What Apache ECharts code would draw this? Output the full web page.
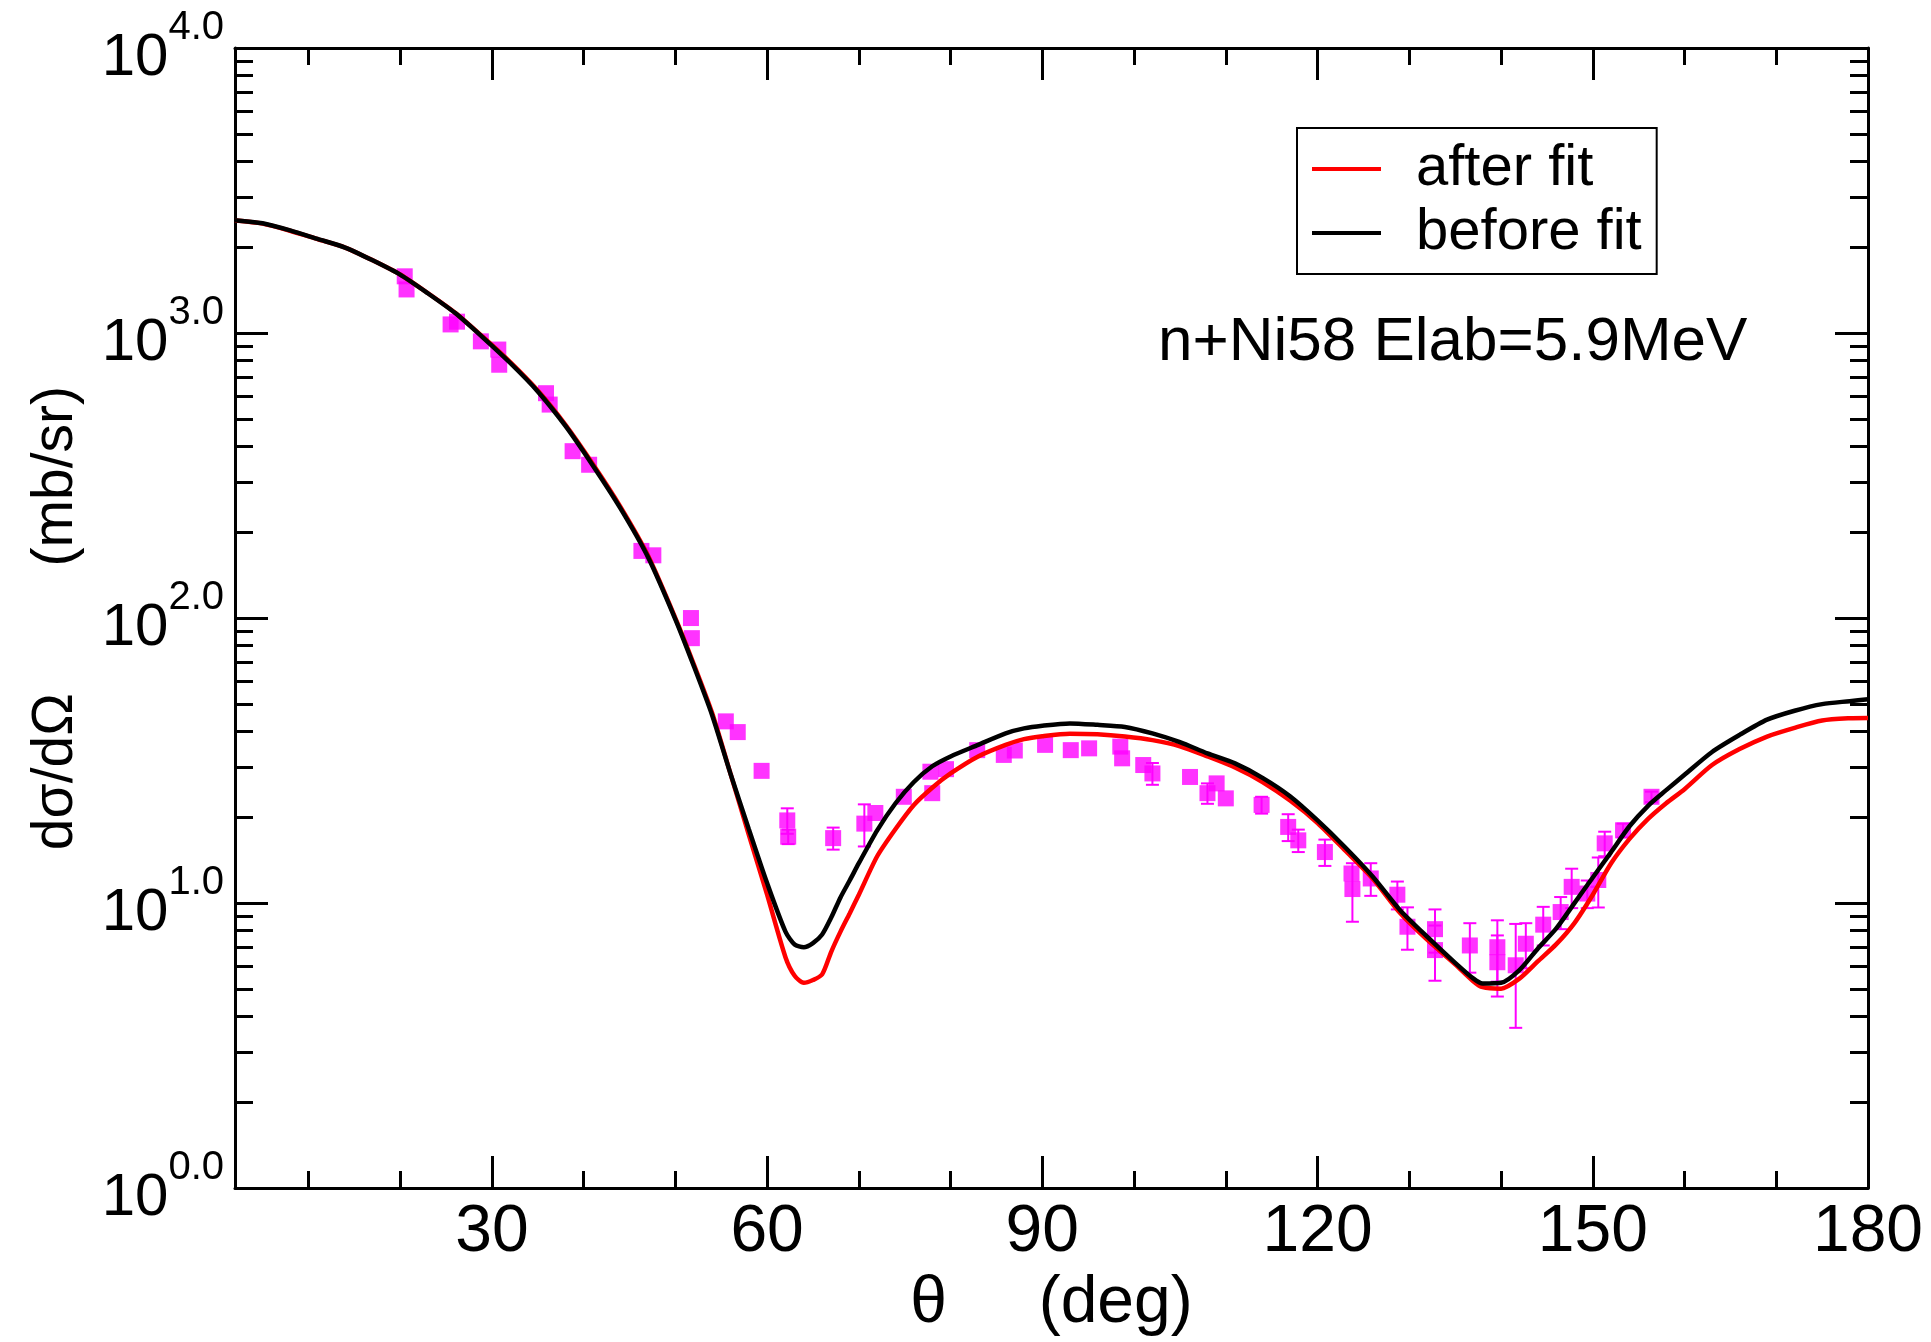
<!DOCTYPE html>
<html><head><meta charset="utf-8">
<script src="https://cdn.jsdelivr.net/npm/echarts@6/dist/echarts.min.js"></script>
<style>html,body{margin:0;padding:0;background:#fff}#c{width:1931px;height:1342px}</style>
</head><body><div id="c"></div>
<script>
// ---- data ----
const curveTheta = [2,5,8,11,14,17,20,23,26,29,32,35,38,41,44,47,50,52,54,56,58,60,62,63,64,65,66,67,68,69,70,72,74,76,78,80,83,86,88,90,93,96,99,102,105,108,111,114,117,120,123,126,129,132,135,137,138,140,142,144,146,148,150,152,154,156,158,160,163,166,169,172,175,178,180];
const afterFit = [2480,2420,2285,2135,1995,1800,1605,1382,1178,970,790,628,477,347,246,166,100,69,46.5,28.5,17.4,10.7,6.46,5.56,5.25,5.37,5.62,6.76,7.94,9.2,10.7,14.6,18.2,22.1,25.4,28.5,32.7,35.9,37.6,38.5,39.3,39.1,38.4,37.3,35.5,32.7,29.9,26.6,22.9,19.1,15.3,12.2,9.23,7.41,6.1,5.31,5.07,5.01,5.43,6.24,7.16,8.51,10.7,13.8,16.8,19.7,22.4,25.1,30.5,34.7,38.4,41.2,43.7,44.5,44.6];
const beforeFit = [2489,2427,2291,2138,1995,1799,1603,1380,1175,966,785,624,473,343,243,164,99,68,45.7,28.5,18.2,11.75,7.94,7.16,7.0,7.24,7.76,8.91,10.47,12.0,13.8,18.0,22.4,26.6,30.2,32.7,35.9,39.4,41.0,41.9,42.7,42.2,41.5,39.4,36.7,33.5,30.9,27.5,23.7,19.5,15.7,12.4,9.44,7.59,6.17,5.43,5.22,5.25,5.82,6.92,8.13,10.0,12.3,15.1,18.6,21.9,24.9,28.2,33.9,38.9,44.0,47.3,49.9,51.1,51.9];

const expTheta = [20.5,20.7,25.5,26.2,28.8,30.7,30.8,35.9,36.3,38.8,40.6,46.3,47.6,51.7,51.8,55.5,56.8,59.4,62.2,62.3,67.2,70.6,71.8,74.9,77.8,78.0,79.5,82.9,85.8,87.0,90.3,93.1,95.1,98.5,98.7,101.0,102.0,106.1,108.0,109.0,110.0,113.9,116.8,117.9,120.8,123.7,123.8,125.8,128.7,129.8,132.8,132.8,136.6,139.6,139.6,141.6,142.7,144.6,146.5,147.7,149.4,150.6,151.3,153.3,156.4];
const expValue = [1581,1422,1072,1096,935,875,774,615,561,385,345,172,166,100,85,43.4,39.8,29.1,19.5,17.1,16.9,19.0,20.7,23.6,28.9,24.3,29.5,34.4,33.1,34.3,35.9,34.4,34.9,35.4,32.2,30.5,28.5,27.7,24.3,26.3,23.3,22.1,18.5,16.6,15.1,12.7,11.2,12.2,10.7,8.26,8.1,6.84,7.1,7.0,6.2,6.05,7.2,8.4,9.3,11.4,10.8,12.05,16.2,18.0,23.6];
const expErr = [0,0,0,0,0,0,0,0,0,0,0,0,0,0,0,0,0,0,2.0,1.0,1.5,3.2,0,0,0,0,0,0,0,0,0,0,0,0,0,0,2.5,0,2.0,0,0,1.5,2.0,1.5,1.6,0,2.6,1.6,1.2,1.4,1.4,1.5,1.4,1.7,1.5,2.4,1.3,1.3,1.2,1.8,1.2,2.4,1.6,1.0,1.0];

const xMajorTicks = [30,60,90,120,150,180];
const xMinorTicks = [10,20,40,50,70,80,100,110,130,140,160,170];
const xTickLabels = ['30','60','90','120','150','180'];
const yMajorTicks = [1,10,100,1000,10000];
const yTickExponents = ['0.0','1.0','2.0','3.0','4.0'];
const yMinorTicks = [2,3,4,5,6,7,8,9,20,30,40,50,60,70,80,90,200,300,400,500,600,700,800,900,2000,3000,4000,5000,6000,7000,8000,9000];

const FONT = '"Liberation Sans", Arial, Helvetica, sans-serif';
const MAGENTA = '#ff00ff';

function xAx(position, ticks, len, line, labels) {
  const a = {
    type: 'value', min: 2, max: 180, position: position,
    splitLine: {show: false},
    axisLine: {show: line, lineStyle: {color: '#000', width: 3}},
    axisTick: {show: true, inside: true, length: len, customValues: ticks, lineStyle: {color: '#000', width: 3}},
    axisLabel: {show: false}
  };
  if (labels) {
    a.axisLabel = {
      show: true, customValues: xMajorTicks, margin: 12,
      fontSize: 66, lineHeight: 66, fontFamily: FONT, color: '#000',
      formatter: function (v) { const i = xMajorTicks.indexOf(Math.round(v)); return i >= 0 ? xTickLabels[i] : ''; }
    };
    a.name = '\u03b8     (deg)';
    a.nameLocation = 'middle';
    a.nameGap = 78;
    a.nameTextStyle = {fontSize: 66, lineHeight: 66, fontFamily: FONT, color: '#000'};
  }
  return a;
}
function yAx(position, ticks, len, line, labels) {
  const a = {
    type: 'log', logBase: 10, min: 1, max: 10000, position: position,
    splitLine: {show: false}, minorTick: {show: false},
    axisLine: {show: line, lineStyle: {color: '#000', width: 3}},
    axisTick: {show: true, inside: true, length: len, customValues: ticks, lineStyle: {color: '#000', width: 3}},
    axisLabel: {show: false}
  };
  if (labels) {
    a.axisLabel = {
      show: true, customValues: yMajorTicks, margin: 11,
      formatter: function (v) {
        let i = yMajorTicks.findIndex(t => Math.abs(t - v) < 1e-6 * t);
        if (i < 0) i = Math.round(Math.log10(v));
        return '{a|10}{b|' + yTickExponents[i] + '}';
      },
      rich: {
        a: {fontSize: 60, lineHeight: 80, verticalAlign: 'bottom', fontFamily: FONT, color: '#000'},
        b: {fontSize: 40, verticalAlign: 'top', fontFamily: FONT, color: '#000'}
      }
    };
    a.name = 'd\u03c3/d\u03a9        (mb/sr)';
    a.nameLocation = 'middle';
    a.nameGap = 150;
    a.nameRotate = 90;
    a.nameTextStyle = {fontSize: 57, lineHeight: 57, fontFamily: FONT, color: '#000'};
  }
  return a;
}

const chart = echarts.init(document.getElementById('c'), null, {renderer: 'canvas'});
const errData = expTheta.map((t, i) => [t, expValue[i], expErr[i]]).filter(d => d[2] > 0);

chart.setOption({
  animation: false,
  backgroundColor: '#fff',
  grid: {left: 235, right: 63, top: 48, bottom: 151, containLabel: false},
  xAxis: [
    xAx('bottom', xMajorTicks, 32, true, true),
    xAx('bottom', xMinorTicks, 17, false, false),
    xAx('top', xMajorTicks, 32, true, false),
    xAx('top', xMinorTicks, 17, false, false)
  ],
  yAxis: [
    yAx('left', yMajorTicks, 33, true, true),
    yAx('left', yMinorTicks, 18, false, false),
    yAx('right', yMajorTicks, 33, true, false),
    yAx('right', yMinorTicks, 18, false, false)
  ],
  legend: {
    left: 1297, top: 128, orient: 'vertical',
    padding: [9, 15, 9, 15], itemGap: 0, itemWidth: 69, itemHeight: 4, icon: 'rect',
    borderColor: '#000', borderWidth: 2, backgroundColor: '#fff',
    textStyle: {fontSize: 58, lineHeight: 64, fontFamily: FONT, color: '#000', padding: [0, 0, 0, 30]},
    data: ['after fit', 'before fit']
  },
  graphic: [{
    type: 'text', x: 1158, y: 343,
    style: {text: 'n+Ni58 Elab=5.9MeV', fontSize: 62, fontFamily: FONT, fill: '#000', align: 'left', verticalAlign: 'middle'}
  }],
  series: [
    {
      name: 'errors', type: 'custom', xAxisIndex: 0, yAxisIndex: 0, z: 2,
      data: errData,
      renderItem: function (params, api) {
        const x = api.value(0), y = api.value(1), e = api.value(2);
        const hi = api.coord([x, y + e]);
        const lo = api.coord([x, Math.max(y - e, 1.001)]);
        const cw = 6.5;
        const st = {stroke: MAGENTA, lineWidth: 2};
        return {type: 'group', children: [
          {type: 'line', shape: {x1: hi[0], y1: hi[1], x2: lo[0], y2: lo[1]}, style: st},
          {type: 'line', shape: {x1: hi[0] - cw, y1: hi[1], x2: hi[0] + cw, y2: hi[1]}, style: st},
          {type: 'line', shape: {x1: lo[0] - cw, y1: lo[1], x2: lo[0] + cw, y2: lo[1]}, style: st}
        ]};
      }
    },
    {
      name: 'data', type: 'scatter', xAxisIndex: 0, yAxisIndex: 0, z: 3,
      symbol: 'rect', symbolSize: 16,
      itemStyle: {color: MAGENTA},
      data: expTheta.map((t, i) => [t, expValue[i]])
    },
    {
      name: 'after fit', type: 'line', xAxisIndex: 0, yAxisIndex: 0, z: 4,
      symbol: 'none', smooth: 0.25,
      lineStyle: {color: '#ff0000', width: 4.5}, itemStyle: {color: '#ff0000'},
      data: curveTheta.map((t, i) => [t, afterFit[i]])
    },
    {
      name: 'before fit', type: 'line', xAxisIndex: 0, yAxisIndex: 0, z: 5,
      symbol: 'none', smooth: 0.25,
      lineStyle: {color: '#000000', width: 4.5}, itemStyle: {color: '#000000'},
      data: curveTheta.map((t, i) => [t, beforeFit[i]])
    }
  ]
});
</script>
</body></html>
